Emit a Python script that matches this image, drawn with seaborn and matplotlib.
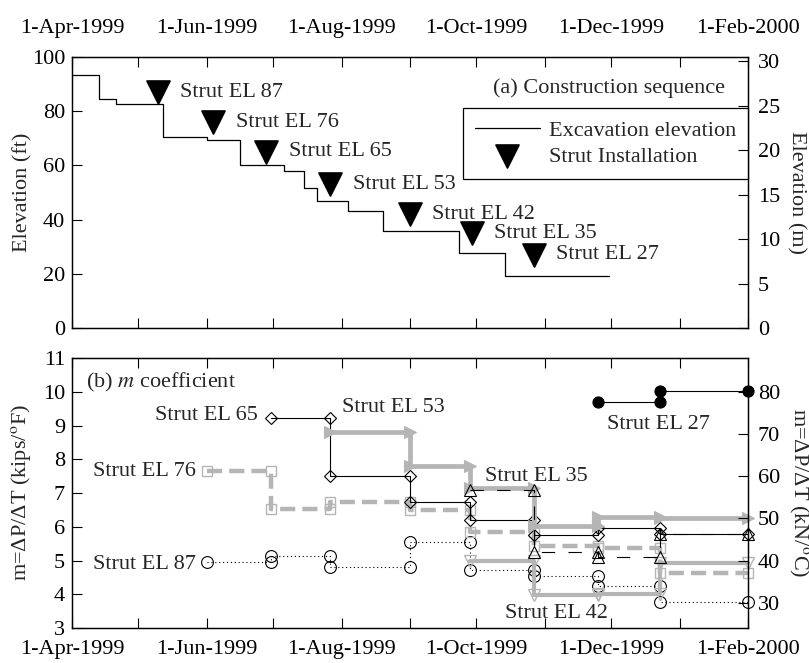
import matplotlib
matplotlib.use('Agg')
import matplotlib.pyplot as plt
import matplotlib.dates as mdates
import matplotlib.ticker as mticker
import numpy as np
import pandas as pd
import seaborn as sns

# ---- data ---------------------------------------------------------------
# (a) construction sequence
exc_dates = ['1999-04-01', '1999-04-13', '1999-04-21', '1999-05-12', '1999-06-01',
             '1999-06-16', '1999-07-06', '1999-07-15', '1999-07-21', '1999-08-04',
             '1999-08-20', '1999-09-23', '1999-10-14', '1999-11-30']
exc_elev  = [93.3, 84.4, 82.5, 70.5, 69.3, 60.0, 57.9, 51.6, 46.8, 43.0,
             35.9, 27.7, 19.3, 19.3]

strut_dates  = ['1999-05-10', '1999-06-04', '1999-06-28', '1999-07-27',
                '1999-09-01', '1999-09-29', '1999-10-27']
strut_elev   = [87, 76, 65, 53, 42, 35, 27]
strut_labels = ['Strut EL 87', 'Strut EL 76', 'Strut EL 65', 'Strut EL 53',
                'Strut EL 42', 'Strut EL 35', 'Strut EL 27']

# (b) m coefficient, one value per interval between readings
m_dates = ['1999-06-01', '1999-06-30', '1999-07-27', '1999-09-01', '1999-09-28',
           '1999-10-27', '1999-11-25', '1999-12-23', '2000-02-01']
el87_m = [4.96, 5.13, 4.82, 5.56, 4.72, 4.54, 4.24, 3.78]
el76_m = [7.66, 6.52, 6.72, 6.50, 5.85, 5.42, 5.37, 4.63]
el65_m = [9.21, 7.51, 6.74, 6.20, 5.75, 5.97, 5.80]
el53_m = [8.82, 7.80, 7.14, 6.02, 6.30, 6.25]
el42_m = [5.00, 3.97, 4.00, 4.92]
el35_m = [7.10, 5.24, 5.09, 5.78]
el27_m = [9.69, 10.03]

# label anchors for panel (b)
lab_dates = ['1999-05-27', '1999-05-27', '1999-06-24', '1999-08-01',
             '1999-10-14', '1999-10-05', '1999-11-29']
lab_vals  = [4.87, 7.63, 9.31, 9.52, 3.44, 7.48, 9.04]
lab_ha    = ['right', 'right', 'right', 'left', 'left', 'left', 'left']

FT2M = 0.3048
KIPF2KNC = 4.448222 * 1.8
GRAY = '#b5b5b5'
FS = 16

sns.set_style('ticks', {'axes.edgecolor': 'black', 'xtick.color': 'black',
                        'ytick.color': 'black', 'xtick.direction': 'in',
                        'ytick.direction': 'in'})
plt.rcParams['font.family'] = ['Liberation Serif', 'DejaVu Serif']
plt.rcParams['mathtext.fontset'] = 'stix'
plt.rcParams['font.size'] = FS
plt.rcParams['axes.linewidth'] = 0.9


def steps(dates, vals):
    """horizontal segment for every interval, readings at both ends"""
    d = pd.to_datetime(dates[len(dates) - 1 - len(vals):])
    xs, ys = [], []
    for i, v in enumerate(vals):
        xs += [d[i], d[i + 1]]
        ys += [v, v]
    return pd.DataFrame({'date': xs, 'm': ys})


def date_fmt(x, pos=None):
    d = mdates.num2date(x)
    return f'{d.day}-{d:%b-%Y}'


fig = plt.figure(figsize=(8.09, 6.63), dpi=100)
ax1 = fig.add_axes([0.089, 0.5053, 0.8356, 0.4087])
ax2 = fig.add_axes([0.089, 0.0528, 0.8356, 0.4072])

xmin, xmax = pd.Timestamp('1999-04-01'), pd.Timestamp('2000-02-01')

# ---- (a) ---------------------------------------------------------------
sns.lineplot(x=pd.to_datetime(exc_dates), y=exc_elev, ax=ax1, color='black',
             lw=0.9, drawstyle='steps-post', estimator=None, legend=False,
             label='Excavation elevation')
sns.scatterplot(x=pd.to_datetime(strut_dates), y=strut_elev, ax=ax1, marker='v',
                s=270, color='black', edgecolor='black', legend=False,
                label='Strut Installation', zorder=5)
for d, e, t in zip(pd.to_datetime(strut_dates), strut_elev, strut_labels):
    ax1.annotate(t, (d, e), xytext=(16, 0), textcoords='offset points',
                 va='center', ha='left', fontsize=FS)

ax1.text(0.966, 0.886, '(a) Construction sequence', transform=ax1.transAxes,
         ha='right', va='center', fontsize=FS)

leg = ax1.legend(handles=[ax1.lines[0], ax1.collections[0]],
                 labels=['Excavation elevation', 'Strut Installation'],
                 loc='upper right', bbox_to_anchor=(1.0, 0.812), borderaxespad=0,
                 frameon=True, fancybox=False, edgecolor='black', framealpha=1,
                 handlelength=2.9, handletextpad=0.4, borderpad=0.55,
                 labelspacing=0.25, scatterpoints=1, fontsize=FS)
leg.get_frame().set_linewidth(0.9)

ax1.set_xlim(xmin, xmax)
ax1.set_ylim(0, 100)
ax1.set_yticks(np.arange(0, 101, 20))
ax1.set_xlabel('')
ax1.set_ylabel('Elevation (ft)', fontsize=FS)
ax1.yaxis.set_label_coords(-0.058, 0.5)

ax1r = ax1.twinx()
ax1r.set_ylim(0, 100 * FT2M)
ax1r.set_yticks(np.arange(0, 31, 5))
ax1r.set_ylabel('Elevation (m)', rotation=270, va='bottom', fontsize=FS)
ax1r.yaxis.set_label_coords(1.057, 0.5)

# ---- (b) ---------------------------------------------------------------
series = [
    (el87_m, dict(color='black', lw=0.8, linestyle=(0, (1, 2.5)), marker='o',
                  ms=8.5, mfc='none', mec='black', mew=0.8)),
    (el76_m, dict(color=GRAY, lw=3.2, linestyle=(0, (3.4, 1.6)), marker='s',
                  ms=7.5, mfc='none', mec=GRAY, mew=1.0)),
    (el65_m, dict(color='black', lw=0.8, linestyle='-', marker='D',
                  ms=6.5, mfc='none', mec='black', mew=0.8)),
    (el53_m, dict(color=GRAY, lw=3.4, linestyle='-', marker='>',
                  ms=9, mfc=GRAY, mec=GRAY, mew=0.8)),
    (el42_m, dict(color=GRAY, lw=3.0, linestyle='-', marker='v',
                  ms=8.5, mfc='none', mec=GRAY, mew=1.0)),
    (el35_m, dict(color='black', lw=0.8, linestyle=(0, (12, 12)), marker='^',
                  ms=8.5, mfc='none', mec='black', mew=0.8)),
    (el27_m, dict(color='black', lw=0.8, linestyle='-', marker='o',
                  ms=8, mfc='black', mec='black', mew=0.8)),
]
for vals, kw in series:
    df = steps(m_dates, vals)
    sns.lineplot(data=df, x='date', y='m', ax=ax2, estimator=None, sort=False,
                 legend=False, clip_on=False, **kw)

for d, v, t, h in zip(pd.to_datetime(lab_dates), lab_vals, strut_labels, lab_ha):
    ax2.text(d, v, t, ha=h, va='center', fontsize=FS)

ax2.text(0.021, 0.908, '(b) $m$ coefficient', transform=ax2.transAxes,
         ha='left', va='center', fontsize=FS)

ax2.set_xlim(xmin, xmax)
ax2.set_ylim(3, 11)
ax2.set_yticks(np.arange(3, 12, 1))
ax2.set_xlabel('')
ax2.set_ylabel('m=ΔP/ΔT (kips/$^{\\mathrm{o}}$F)', fontsize=FS)
ax2.yaxis.set_label_coords(-0.058, 0.5)

ax2r = ax2.twinx()
ax2r.set_ylim(3 * KIPF2KNC, 11 * KIPF2KNC)
ax2r.set_yticks(np.arange(30, 81, 10))
ax2r.set_ylabel('m=ΔP/ΔT (kN/$^{\\mathrm{o}}$C)', rotation=270, va='bottom',
                fontsize=FS)
ax2r.yaxis.set_label_coords(1.057, 0.5)

# ---- ticks ---------------------------------------------------------------
for ax in (ax1, ax2):
    ax.xaxis.set_major_locator(mdates.MonthLocator(bymonth=(2, 4, 6, 8, 10, 12)))
    ax.xaxis.set_minor_locator(mdates.MonthLocator())
    ax.xaxis.set_major_formatter(mticker.FuncFormatter(date_fmt))
    ax.tick_params(axis='x', which='both', direction='in', length=7, width=0.8,
                   top=True, bottom=True, labelsize=FS)
    ax.tick_params(axis='y', direction='in', length=7, width=0.8, pad=5,
                   labelsize=FS)
    for s in ax.spines.values():
        s.set_visible(True)
ax1.tick_params(axis='x', which='both', labeltop=True, labelbottom=False, pad=14)
ax2.tick_params(axis='x', which='both', labeltop=False, labelbottom=True, pad=9)
for ax in (ax1r, ax2r):
    ax.tick_params(axis='y', direction='in', length=7, width=0.8, pad=7,
                   labelsize=FS)

fig.savefig('out.png', dpi=100)
